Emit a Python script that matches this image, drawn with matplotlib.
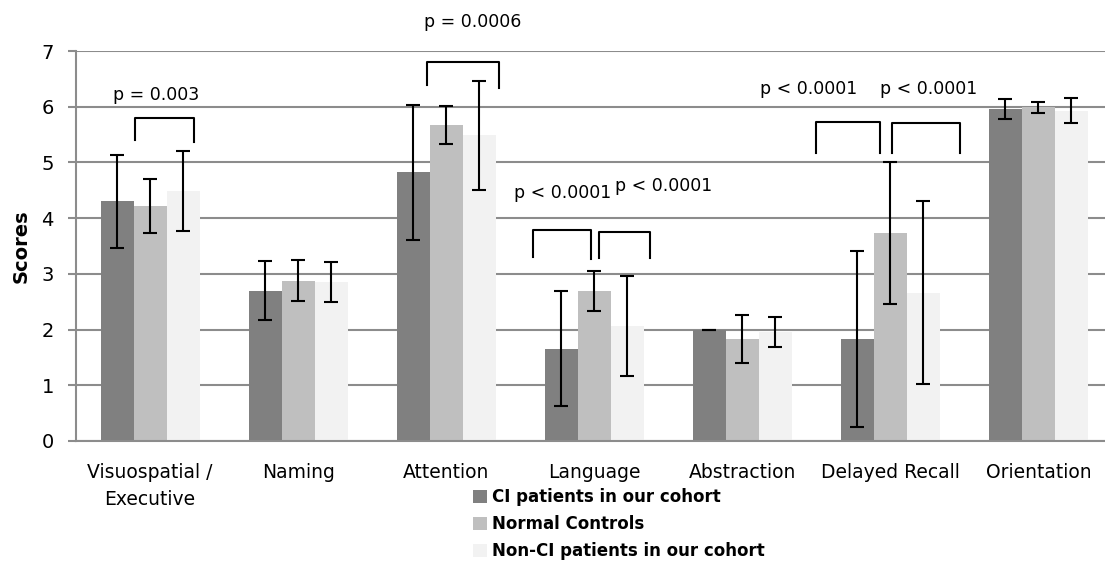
import numpy as np
import matplotlib
matplotlib.use("Agg")
import matplotlib.pyplot as plt

# ── Data ──────────────────────────────────────────────────────────────────────
categories = ["Visuospatial /\nExecutive", "Naming", "Attention", "Language",
              "Abstraction", "Delayed Recall", "Orientation"]
series_names = ["CI patients in our cohort", "Normal Controls",
                "Non-CI patients in our cohort"]

ci_mean     = [4.30, 2.70, 4.82, 1.66, 2.00, 1.83, 5.96]
ci_err      = [0.84, 0.53, 1.21, 1.03, 0.00, 1.58, 0.18]
normal_mean = [4.22, 2.88, 5.67, 2.69, 1.83, 3.73, 5.99]
normal_err  = [0.48, 0.36, 0.34, 0.36, 0.43, 1.27, 0.10]
nonci_mean  = [4.49, 2.85, 5.49, 2.06, 1.95, 2.66, 5.93]
nonci_err   = [0.72, 0.36, 0.98, 0.90, 0.27, 1.64, 0.23]

# significance brackets: x0, x1, top, left-end, right-end
brackets = [
    (-0.10, 0.30, 5.80, 5.40, 5.37),
    (1.87, 2.36, 6.80, 6.39, 6.34),
    (2.59, 2.98, 3.78, 3.30, 3.27),
    (3.03, 3.38, 3.76, 3.28, 3.28),
    (4.50, 4.93, 5.73, 5.17, 5.17),
    (5.01, 5.47, 5.71, 5.17, 5.17),
]
p_labels = [
    ("p = 0.003",  0.04, 6.21),
    ("p = 0.0006", 2.18, 7.52),
    ("p < 0.0001", 2.79, 4.45),
    ("p < 0.0001", 3.47, 4.58),
    ("p < 0.0001", 4.45, 6.32),
    ("p < 0.0001", 5.26, 6.32),
]

colors = ["#808080", "#bfbfbf", "#f2f2f2"]
FONT = "DejaVu Sans"

# ── Plot ──────────────────────────────────────────────────────────────────────
fig = plt.figure(figsize=(11.05, 5.63), dpi=100)
ax = fig.add_axes([76 / 1105, 1 - 441 / 563, 1 - 76 / 1105, (441 - 51) / 563])

x = np.arange(len(categories))
w = 0.223
means = [ci_mean, normal_mean, nonci_mean]
errs = [ci_err, normal_err, nonci_err]
for i, (m, e) in enumerate(zip(means, errs)):
    ax.bar(x + (i - 1) * w, m, w, color=colors[i], label=series_names[i], zorder=2)
    ax.errorbar(x + (i - 1) * w, m, yerr=e, fmt="none", ecolor="black",
                elinewidth=1.5, capsize=5, capthick=1.5, zorder=3)

for x0, x1, top, yl, yr in brackets:
    ax.plot([x0, x0, x1, x1], [yl, top, top, yr], color="black", lw=1.5,
            clip_on=False, zorder=4)
for txt, tx, ty in p_labels:
    ax.text(tx, ty, txt, ha="center", va="center", fontsize=12.5,
            family=FONT, clip_on=False)

ax.set_xlim(-0.5, 6.45)
ax.set_ylim(0, 7)
ax.set_yticks(range(8))
ax.yaxis.grid(True, color="#8c8c8c", lw=1.5, zorder=0)
ax.set_axisbelow(True)
ax.set_xticks(x)
ax.set_xticklabels(categories, fontsize=13.5, family=FONT, linespacing=1.55)
for lbl in ax.get_yticklabels():
    lbl.set_fontsize(14)
    lbl.set_family(FONT)
ax.tick_params(axis="x", length=0, pad=16)
ax.tick_params(axis="y", length=6, width=1.5, color="#8c8c8c", pad=10)
for s in ["top", "right"]:
    ax.spines[s].set_visible(False)
for s in ["left", "bottom"]:
    ax.spines[s].set_color("#8c8c8c")
    ax.spines[s].set_linewidth(1.5)
ax.set_ylabel("Scores", fontsize=14, fontweight="bold", family=FONT, labelpad=8)

fig.legend(loc="upper left", bbox_to_anchor=(473 / 1105, 1 - 488 / 563),
           frameon=False, prop={"family": FONT, "weight": "bold", "size": 12},
           handlelength=0.85, handleheight=0.85, handletextpad=0.3,
           labelspacing=0.55, borderaxespad=0, borderpad=0)

fig.savefig("out.png", dpi=100)
